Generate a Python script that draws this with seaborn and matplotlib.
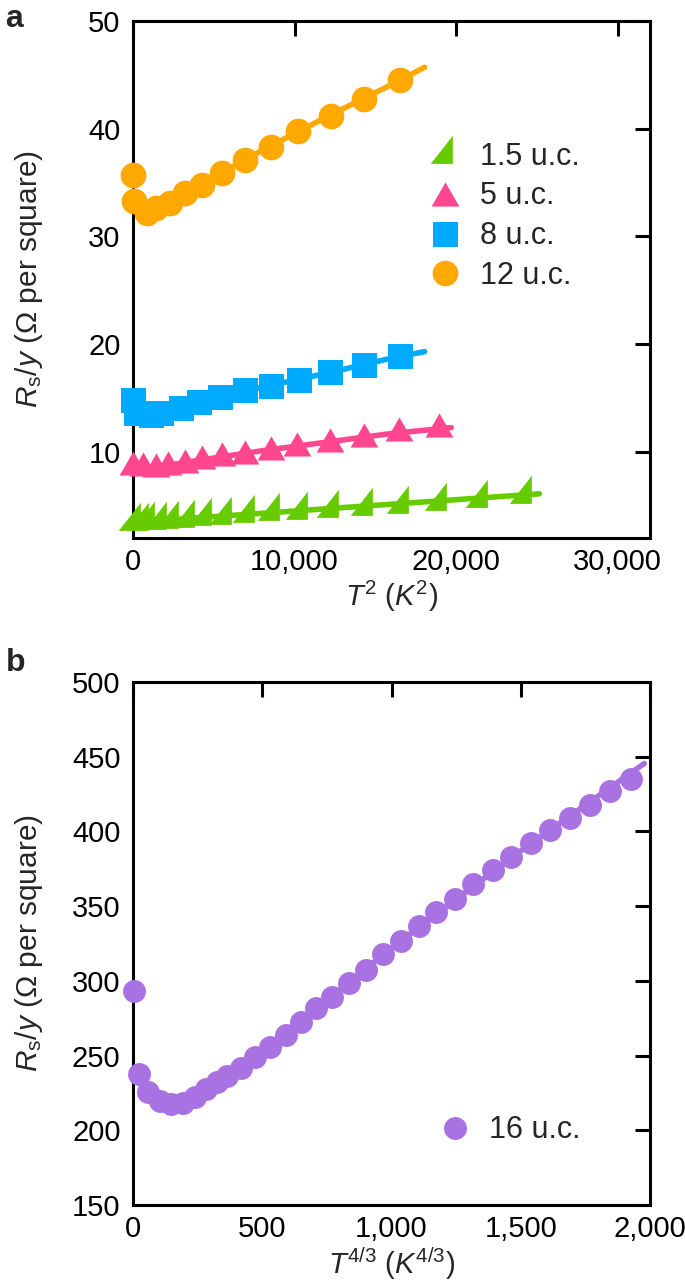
import numpy as np
import seaborn as sns
import matplotlib
matplotlib.use('Agg')
import matplotlib.pyplot as plt
from matplotlib.ticker import FuncFormatter

# ---- panel a : Rs/y vs T^2 ----
t2_15 = [0, 480, 890, 1610, 2330, 3360, 4390, 5630, 7070, 8620, 10330, 12230, 14330, 16560, 18920, 21500, 24180]
rs_15 = [3.55, 3.62, 3.64, 3.7, 3.77, 3.86, 4.01, 4.17, 4.32, 4.47, 4.63, 4.79, 4.94, 5.2, 5.45, 5.75, 6.1]
t2_5 = [0, 640, 1420, 2195, 3190, 4300, 5520, 6960, 8510, 10180, 12170, 14280, 16490, 18930]
rs_5 = [8.97, 8.86, 8.8, 8.97, 9.14, 9.5, 9.76, 10.0, 10.35, 10.7, 11.1, 11.55, 12.1, 12.5]
t2_8 = [0, 200, 1090, 1750, 2970, 4080, 5410, 6960, 8510, 10290, 12170, 14280, 16540]
rs_8 = [14.8, 13.6, 13.4, 13.6, 14.1, 14.6, 15.1, 15.7, 16.1, 16.7, 17.4, 18.1, 18.9]
t2_12 = [0, 90, 865, 1420, 2305, 3190, 4300, 5520, 6960, 8510, 10240, 12240, 14280, 16540]
rs_12 = [35.7, 33.3, 32.2, 32.6, 33.1, 34.0, 34.8, 35.9, 37.1, 38.3, 39.8, 41.2, 42.8, 44.5]

# fit curves
fit15_x = [0, 25150]
fit15_y = [3.45, 6.1]
fit5_x = [0, 1000, 2000, 4000, 8000, 12000, 16000, 19700]
fit5_y = [8.6, 8.55, 8.7, 9.2, 10.1, 10.9, 11.7, 12.25]
fit8_x = [0, 500, 1000, 2000, 4000, 8000, 12000, 16000, 18050]
fit8_y = [14.3, 13.6, 13.4, 13.6, 14.5, 16.0, 17.3, 18.7, 19.3]
fit12_x = [0, 500, 1000, 2000, 4000, 8000, 12000, 16000, 18050]
fit12_y = [33.5, 32.6, 32.3, 32.8, 34.6, 38.0, 41.1, 44.1, 45.7]

# ---- panel b : Rs/y vs T^(4/3), 16 u.c. ----
t43_16 = [3, 23, 58, 103, 148, 193, 239, 284, 323, 362, 417, 472, 528, 590, 649, 707, 769,
          834, 900, 969, 1036, 1105, 1174, 1246, 1317, 1391, 1464, 1538, 1614, 1690, 1768, 1846, 1926]
rs_16 = [293, 238, 225.5, 219.7, 217.5, 218.6, 222, 227.6, 232, 236.5, 242, 249, 255.6, 263.5, 272.6, 281.6, 289.5,
         298.6, 307.6, 317.8, 326.8, 337, 346, 355, 365, 374, 383, 392, 401, 409, 418, 427, 435]
fit16_x = [25, 60, 100, 150, 200, 260, 330, 500, 1000, 1500, 1978]
fit16_y = [236, 224, 216, 213.5, 216, 222, 232, 252, 322, 387, 445.5]

labels_a = ['1.5 u.c.', '5 u.c.', '8 u.c.', '12 u.c.']
colors_a = ['#66cc00', '#ff4790', '#00aaff', '#ffa800']
color_b = '#a872e3'

sns.set_theme(style='white')
plt.rcParams['font.family'] = ['Liberation Sans', 'DejaVu Sans']
plt.rcParams['mathtext.fontset'] = 'custom'
plt.rcParams['mathtext.rm'] = 'Liberation Sans'
plt.rcParams['mathtext.it'] = 'Liberation Sans:italic'
plt.rcParams['mathtext.bf'] = 'Liberation Sans:bold'

FS = 21

# marker shapes
tri_green = np.array([[-0.733, -0.467], [0.367, -0.467], [0.367, 0.933], [-0.733, -0.467]])
tri_pink = np.array([[0, 0.87], [-1, -0.87], [1, -0.87], [0, 0.87]])

fig = plt.figure(figsize=(6.85, 12.87), dpi=100)
ax1 = fig.add_axes([0.1942, 0.5820, 0.7547, 0.4017])
ax2 = fig.add_axes([0.1942, 0.0637, 0.7547, 0.4064])

series = [(t2_15, rs_15, fit15_x, fit15_y, tri_green, 27 ** 2),
          (t2_5, rs_5, fit5_x, fit5_y, tri_pink, 20 ** 2),
          (t2_8, rs_8, fit8_x, fit8_y, 's', 18 ** 2),
          (t2_12, rs_12, fit12_x, fit12_y, 'o', 18.5 ** 2)]

for (x, y, fx, fy, m, s), lab, c in zip(series, labels_a, colors_a):
    sns.lineplot(x=fx, y=fy, color=c, lw=4, ax=ax1, legend=False, zorder=2)
    sns.scatterplot(x=x, y=y, marker=m, s=s, color=c, linewidth=0, ax=ax1,
                    label=lab, legend=False, clip_on=False, zorder=3)

sns.lineplot(x=fit16_x, y=fit16_y, color=color_b, lw=4, ax=ax2, legend=False, zorder=2)
sns.scatterplot(x=t43_16, y=rs_16, marker='o', s=16.5 ** 2, color=color_b, linewidth=0, ax=ax2,
                label='16 u.c.', legend=False, clip_on=False, zorder=3)

ax1.set_xlim(0, 32000)
ax1.set_ylim(2, 50)
ax1.set_xticks([0, 10000, 20000, 30000])
ax1.set_yticks([10, 20, 30, 40, 50])
ax2.set_xlim(0, 2000)
ax2.set_ylim(150, 500)
ax2.set_xticks([0, 500, 1000, 1500, 2000])
ax2.set_yticks(range(150, 501, 50))

fmt = FuncFormatter(lambda v, p: f'{v:,.0f}')
for ax in (ax1, ax2):
    ax.xaxis.set_major_formatter(fmt)
    ax.tick_params(direction='in', length=10.5, width=2.2, top=True, right=True,
                   labelsize=FS, colors='black')
    ax.tick_params(axis='x', pad=7)
    ax.tick_params(axis='y', pad=9)
    for sp in ax.spines.values():
        sp.set_linewidth(2.2)
        sp.set_color('black')
    ax.set_ylabel(r'$R_{\mathrm{s}}/y$ (Ω per square)', fontsize=21.5)
    ax.yaxis.set_label_coords(-0.17, 0.5)

ax1.set_xlabel(r'$T^{\mathrm{2}}$ ($K^{\mathrm{2}}$)', fontsize=FS, labelpad=2)
ax2.set_xlabel(r'$T^{\mathrm{4/3}}$ ($K^{\mathrm{4/3}}$)', fontsize=FS, labelpad=2)

ax1.legend(loc='upper left', bbox_to_anchor=(0.544, 0.796), frameon=False, fontsize=22,
           handlelength=1.0, handletextpad=0.65, borderpad=0, labelspacing=0.32,
           scatterpoints=1, scatteryoffsets=[0.5])
ax2.legend(loc='center left', bbox_to_anchor=(0.564, 0.143), frameon=False, fontsize=22,
           handlelength=1.0, handletextpad=0.6, borderpad=0,
           scatterpoints=1, scatteryoffsets=[0.5])

fig.text(0.008, 0.997, 'a', fontsize=23, fontweight='bold', va='top', ha='left')
fig.text(0.008, 1 - 648 / 1287, 'b', fontsize=23, fontweight='bold', va='top', ha='left')

fig.savefig('out.png', dpi=100)
